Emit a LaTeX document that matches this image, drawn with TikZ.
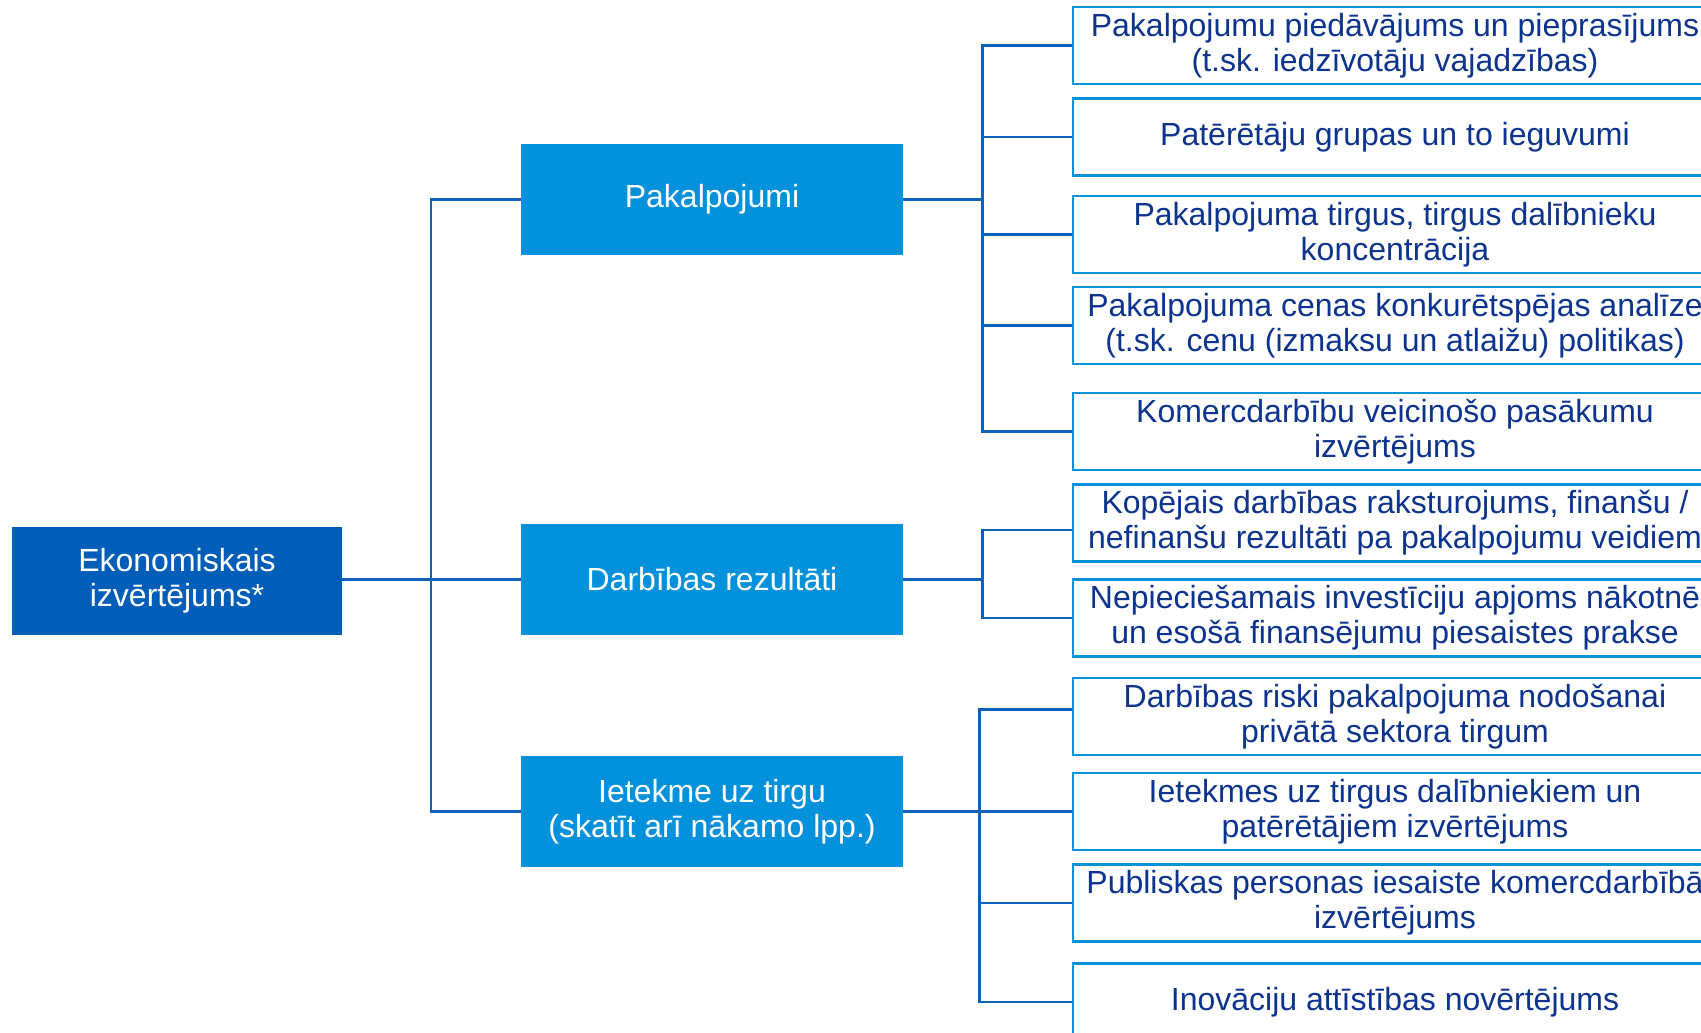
\documentclass[tikz,border=0pt]{standalone}
\usepackage{fontspec}
\setmainfont{Liberation Sans}
\definecolor{rootblue}{RGB}{0,94,184}
\definecolor{midblue}{RGB}{2,145,218}
\definecolor{leafline}{RGB}{8,147,216}
\definecolor{connblue}{RGB}{14,96,184}
\definecolor{navy}{RGB}{12,52,142}
\begin{document}
\begin{tikzpicture}[x=1pt,y=-1pt,
  txt/.style={font=\fontsize{32}{35}\selectfont, align=center, inner sep=0pt},
  rootbox/.style={txt, rectangle, fill=rootblue, text=white, minimum width=330pt, minimum height=108pt},
  midbox/.style={txt, rectangle, fill=midblue, text=white, minimum width=382pt, minimum height=111pt},
  leafbox/.style={txt, rectangle, draw=leafline, line width=2.6pt, fill=white, text=navy, minimum width=644pt, minimum height=77pt},
  conn/.style={draw=connblue, line width=2.6pt}]
\useasboundingbox (0,0) rectangle (1701,1033);
\clip (0,0) rectangle (1701,1033);
% root and middle level
\node[rootbox] (root) at (177,581) {Ekonomiskais\\izvērtējums*};
\node[midbox] (pk) at (712,199.5) {Pakalpojumi};
\node[midbox] (dr) at (712,579.5) {Darbības rezultāti};
\node[midbox] (ie) at (712,811.5) {Ietekme uz tirgu\\(skatīt arī nākamo lpp.)};
% leaves
\node[leafbox] (l1) at (1395,45.5) {Pakalpojumu piedāvājums un pieprasījums\\(t.sk. iedzīvotāju vajadzības)};
\node[leafbox] (l2) at (1395,137) {Patērētāju grupas un to ieguvumi};
\node[leafbox] (l3) at (1395,234.5) {Pakalpojuma tirgus, tirgus dalībnieku\\koncentrācija};
\node[leafbox] (l4) at (1395,325.5) {Pakalpojuma cenas konkurētspējas analīze\\(t.sk. cenu (izmaksu un atlaižu) politikas)};
\node[leafbox] (l5) at (1395,431.5) {Komercdarbību veicinošo pasākumu\\izvērtējums};
\node[leafbox] (l6) at (1395,523) {Kopējais darbības raksturojums, finanšu /\\nefinanšu rezultāti pa pakalpojumu veidiem};
\node[leafbox] (l7) at (1395,618) {Nepieciešamais investīciju apjoms nākotnē\\un esošā finansējumu piesaistes prakse};
\node[leafbox] (l8) at (1395,716.5) {Darbības riski pakalpojuma nodošanai\\privātā sektora tirgum};
\node[leafbox] (l9) at (1395,811.5) {Ietekmes uz tirgus dalībniekiem un\\patērētājiem izvērtējums};
\node[leafbox] (l10) at (1395,903) {Publiskas personas iesaiste komercdarbībā\\izvērtējums};
\node[leafbox] (l11) at (1395,1002) {Inovāciju attīstības novērtējums};
% trunk
\draw[conn] (root.east |- dr.west) -- (dr.west);
\draw[conn] (pk.west) -- ++(-90,0) |- (ie.west);
% branch 1
\draw[conn] (pk.east) -- ++(81,0);
\draw[conn] (l1.west) -- ++(-89,0) |- (l5.west);
\draw[conn] (l2.west) -- ++(-89,0);
\draw[conn] (l3.west) -- ++(-89,0);
\draw[conn] (l4.west) -- ++(-89,0);
% branch 2
\draw[conn] (dr.east) -- ++(81,0);
\draw[conn] ([yshift=-7pt]l6.west) -- ++(-89,0) |- (l7.west);
% branch 3
\draw[conn] (ie.east) -- ++(78,0);
\draw[conn] ([yshift=7pt]l8.west) -- ++(-92,0) |- (l11.west);
\draw[conn] (l9.west) -- ++(-92,0);
\draw[conn] (l10.west) -- ++(-92,0);
\end{tikzpicture}
\end{document}
